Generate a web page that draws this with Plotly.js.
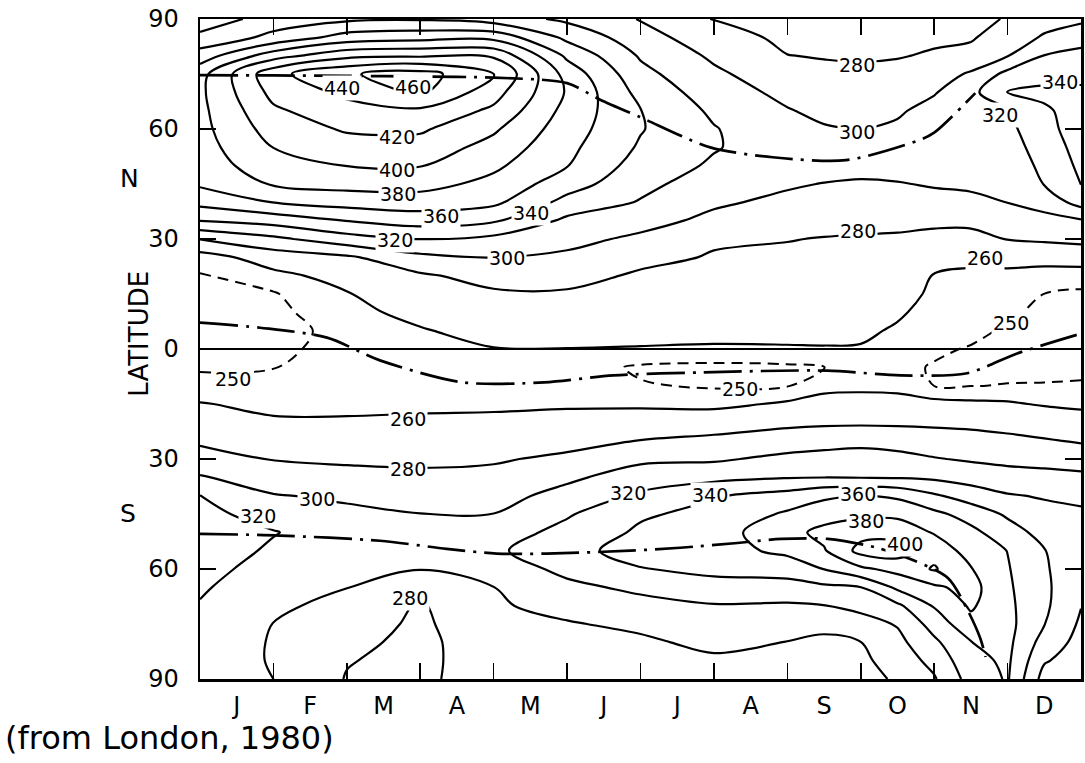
<!DOCTYPE html>
<html>
<head>
<meta charset="utf-8">
<script src="https://cdn.plot.ly/plotly-3.0.1.min.js"></script>
<style>html,body{margin:0;padding:0;background:#fff;}#chart{width:1085px;height:763px;}</style>
</head>
<body>
<div id="chart"></div>
<script>
// ---- data (total ozone, Dobson units) ----
const monthLabels = ['J','F','M','A','M','J','J','A','S','O','N','D'];
const monthCenters = [0.5,1.5,2.5,3.5,4.5,5.5,6.5,7.5,8.5,9.5,10.5,11.5];
const monthBounds = [1,2,3,4,5,6,7,8,9,10,11];
const latTickVals = [-90,-60,-30,0,30,60,90];
const latTickText = ['90','60','30','0','30','60','90'];

// time (months from 1 Jan) of each grid column
const timeGrid = [0,1,2,3,4,5,6,7,8,8.5,9,9.5,10,10.5,11,11.5,12];
// latitude of each grid row (north positive)
const latGrid = [90,85,80,75,70,65,60,55,50,45,40,35,30,25,20,15,10,5,0,-5,-10,-15,-20,-25,-30,-35,-40,-45,-50,-55,-60,-65,-70,-75,-80,-85,-90];

// ozone profiles, one per time column, from 90N to 90S
const ozoneT00 = [306,326,349,373,376,375,374,372,370,363,346,320.5,280.5,252,249.7,247.5,245.3,244.8,246.8,248.9,253.2,260.7,268.8,276.9,288,301.6,320.5,325.7,331,330.6,326.5,322.4,318.7,315.5,312.4,309,306];
const ozoneT01 = [330,345,391,434,426,416.7,408.5,400.3,391,381.9,360.4,327.9,295.5,269,255.4,249.2,247.4,246.3,248,249.7,253.1,256.9,261.7,270.4,279.1,290.5,301,312,321,317.1,312.4,307.6,302.9,299.7,298.5,298.8,300];
const ozoneT02 = [336,368.2,414.3,458,444.5,432.7,422.3,411.4,400.4,386.8,367.8,340.5,311.8,276.7,266.5,259,256.2,253.2,253.1,254.8,256.6,258.4,260.8,268.8,276.8,286.4,297,304,309.7,309.3,304.7,300.4,295.3,290.5,285.7,281,279];
const ozoneT03 = [338,372.6,417,468,464,436,422.9,411.6,400.9,387,370.4,348.8,320.6,295,277.3,270.7,264,258.9,256.1,254.5,256.5,258.4,261.5,268.8,276.2,284,292.2,300.3,307.7,308.8,300.8,285,278,276,274,274.5,276];
const ozoneT04 = [330,373.6,417,442,428,416,403,393,383.9,374.3,364.4,342.5,314.7,300.4,287,277.2,271.2,265.1,259.5,256.4,254.7,257.9,262.7,270.4,278,285,292.5,300.2,310.1,316.3,307.8,299.8,297.9,295.9,294,292,290];
const ozoneT05 = [316,335,356,372.3,378,373.6,369.3,365,360.7,349.2,333.2,315.6,306,296.2,286.3,277.8,271.8,265.7,259.7,255.2,253.3,258.1,265.2,273.9,283.7,295.9,307.1,317.8,326.1,334,325.5,315,305.4,298.7,296.2,293.2,290];
const ozoneT06 = [299,308.4,317.8,325.9,333.8,340.5,341.3,337.6,331.5,325.4,318.6,307.3,296,284.9,277.5,273.1,268.6,264.2,259.2,248.5,250.8,257.6,267.8,280.4,295.9,310.1,323.3,337.4,343.2,347.5,339.1,324.4,313.2,303.5,297.1,292.5,288];
const ozoneT07 = [279,287.8,296.5,303.8,310,316.3,321.2,321.4,317.2,310.1,303.1,294.9,282.3,278.6,275,271.2,267.5,263.7,258.6,247.3,248.9,256.4,269.5,285,297.4,314.2,338.3,345.5,351.4,352.1,344.5,333.3,318.6,311.4,304.2,297,290];
const ozoneT08 = [272,276.1,280.3,287.6,294.9,301.2,305.4,309.6,309.8,302.5,295.2,287.9,280.6,276.9,273.5,270.1,266.7,263.3,259,248.2,249.4,261.9,275.4,290,304.8,318.9,347.6,362.8,373,364.6,348.6,332.3,317.6,308.4,299.6,294.8,290];
const ozoneT085 = [272,276,279,283.9,289.8,295.6,301.6,307.7,309,299.3,292.4,285.5,279.3,276,272.7,269.5,266.2,263,259.3,249.8,255.7,265.7,276.8,292.3,307.1,319.7,356.4,371.1,385.9,378.2,360.4,336.1,319.6,303.3,297.4,294.9,291];
const ozoneT09 = [272,276,278.5,282.9,288.3,293.7,299.4,306.5,307.9,297.2,290.6,284,278.7,275.5,272.3,269,265.8,262.6,259,253.1,256.6,266.1,277,294.4,308,319.1,360.6,375.3,393.1,406.4,376,339.7,325.6,312.1,299.7,295.8,292];
const ozoneT095 = [272,275.5,279,284.8,291.1,297.5,303,308.3,307.5,298.9,291.3,283.8,278,274,269.9,265.8,261.8,258.3,255.3,252.2,255.9,265.6,276.9,291.8,306.2,318.5,356.3,375.7,391.7,410,386.3,364,336.2,321.5,314.3,308.6,303];
const ozoneT10 = [274,277.3,281.7,290.2,298.6,306.6,314.4,311.9,306.8,301.7,293.7,284,274.7,265.5,259.2,257.3,255.4,253.5,251.5,249.3,249.9,263.8,276.5,288.8,301.2,316.4,342.6,364.7,378.4,392.8,402,376.5,361.8,348.1,336,326,318];
const ozoneT105 = [276,278.1,285.7,302.6,313.5,316,312.6,309.2,305.8,302.4,296.7,284.9,273.5,262.2,258.4,256.4,254.4,252.5,249.3,247.5,249.7,262.6,275.4,287,297.8,311.7,330.5,352,365,371.7,381.1,386.9,382.7,374,359.6,354,348];
const ozoneT11 = [281,289.4,299.2,325.7,341.3,318.9,315.1,311.4,307.7,304,300.2,290.7,280.8,263.6,257.6,254.6,251.7,248.7,245.6,247.3,250.4,261.6,273.1,284.4,295,308,321.5,336.9,348.9,359.6,361.5,363,364.5,366,365,363.5,362];
const ozoneT115 = [292,302.2,320.5,332.2,344.7,337,332.9,328.9,324.8,320.7,307,294,283.1,264.4,255.5,249.9,247.6,245.2,245.2,247.7,250.5,258.7,269.8,281.5,293.7,305.9,318.3,326,333,340.5,341.9,343.8,343.8,340.6,332,322,312];
const ozoneT12 = [296,312,325.8,335.5,343,348.6,350.7,347.3,344,340.6,328,297.8,285.6,266.8,253.7,248.7,246.5,244.4,245.9,248.1,250.8,257.1,266.4,278.1,291.4,304.1,315.6,323.1,328,333,328.9,324.7,320.6,316.9,313.3,309.6,306];

const ozoneColumns = [ozoneT00,ozoneT01,ozoneT02,ozoneT03,ozoneT04,ozoneT05,ozoneT06,ozoneT07,ozoneT08,ozoneT085,ozoneT09,ozoneT095,ozoneT10,ozoneT105,ozoneT11,ozoneT115,ozoneT12];

// latitude of the ozone maximum / minimum (dash-dot lines)
const nhMaxT = [0,1,2,3,4,5,5.45,6,6.95,7.8,8.8,9.8,10.0,10.56];
const nhMaxLat = [74.7,74.6,74.5,74.3,74,72.5,68,63.2,55,52.3,51.5,57,59,69.8];
const eqMinT = [0,0.82,1.73,2.45,3.58,4.69,5.63,6.81,8.54,9.54,10.45,11.13,12];
const eqMinLat = [7.2,5.8,3.1,-3.1,-9.1,-9.1,-7.2,-6.4,-5.9,-7.2,-6.6,-1.2,4.2];
const shMaxT = [0,1.09,2.45,3.36,4.04,4.72,5.86,6.54,7.32,7.92,8.55,9.22,9.7,10.19,10.45,10.63,10.7];
const shMaxLat = [-50.4,-50.9,-52.3,-54.5,-55.8,-55.8,-55,-54.2,-52.9,-51.8,-51.8,-54.2,-57.5,-62.5,-71,-79,-84];

// contour labels: value, time, latitude
const labelText = ['440','460','420','400','380','360','340','320','300','280','300','280','260','340','320','250','250','250','260','280','300','320','280','320','340','360','380','400'];
const labelT =    [1.93,2.9,2.68,2.68,2.7,3.28,4.51,2.66,4.18,8.95,8.95,8.96,10.69,11.72,10.9,11.04,0.45,7.36,2.83,2.83,1.59,0.79,2.86,5.83,6.95,8.96,9.07,9.6];
const labelLat =  [71.2,71.4,57.8,48.7,42.4,36.4,37,29.6,24.7,77.4,59.1,32.1,24.7,72.8,63.8,7.2,-8.1,-10.8,-19,-32.6,-40.8,-45.5,-67.9,-39.2,-39.7,-39.5,-46.8,-53.1];

// ---- build ----
const z = latGrid.map((_, i) => ozoneColumns.map(col => col[i]));
const FONT = 'DejaVu Sans, Liberation Sans, Arial, sans-serif';

const traces = [
  {type:'contour', x: timeGrid, y: latGrid, z: z, showscale:false, hoverinfo:'skip',
   contours:{coloring:'none', start:260, end:460, size:20, showlabels:false},
   line:{color:'#000', width:2.2, smoothing:1}},
  {type:'contour', x: timeGrid, y: latGrid, z: z, showscale:false, hoverinfo:'skip',
   contours:{coloring:'none', start:250, end:250.5, size:10, showlabels:false},
   line:{color:'#000', width:2, dash:'11px,7px', smoothing:1}},
  {type:'scatter', mode:'lines', x: nhMaxT, y: nhMaxLat, xaxis:'x2', yaxis:'y',
   line:{color:'#000', width:2.7, dash:'38px,8px,3px,8px', shape:'spline', smoothing:0.8}, hoverinfo:'skip'},
  {type:'scatter', mode:'lines', x: eqMinT, y: eqMinLat, xaxis:'x2', yaxis:'y',
   line:{color:'#000', width:2.7, dash:'38px,8px,3px,8px', shape:'spline', smoothing:0.8}, hoverinfo:'skip'},
  {type:'scatter', mode:'lines', x: shMaxT, y: shMaxLat, xaxis:'x2', yaxis:'y',
   line:{color:'#000', width:2.7, dash:'38px,8px,3px,8px', shape:'spline', smoothing:0.8}, hoverinfo:'skip'}
];

const annotations = labelText.map((t, i) => ({
  text: t, x: labelT[i], y: labelLat[i], xref:'x', yref:'y', showarrow:false,
  font:{family:FONT, size:19, color:'#000'}, bgcolor:'#fff', borderpad:1
}));
annotations.push(
  {text:'LATITUDE', xref:'paper', yref:'y', x:-0.0885, y:4.2, textangle:-90, showarrow:false,
   font:{family:FONT, size:26, color:'#000'}},
  {text:'N', xref:'paper', yref:'y', x:-0.093, y:46.5, showarrow:false, font:{family:FONT, size:25, color:'#000'}},
  {text:'S', xref:'paper', yref:'y', x:-0.093, y:-44.9, showarrow:false, font:{family:FONT, size:25, color:'#000'}},
  {text:'(from London, 1980)', xref:'paper', yref:'paper', x:-0.2236, y:-0.0895, xanchor:'left', yanchor:'middle',
   showarrow:false, font:{family:FONT, size:32, color:'#000'}}
);

const layout = {
  width:1085, height:763,
  margin:{l:200, r:4, t:19, b:84, pad:0},
  paper_bgcolor:'#fff', plot_bgcolor:'#fff',
  showlegend:false,
  font:{family:FONT, color:'#000'},
  xaxis:{range:[0,12], tickvals: monthCenters, ticktext: monthLabels, ticks:'',
         showline:true, mirror:true, linecolor:'#000', linewidth:2.5,
         showgrid:false, zeroline:false, ticklabelstandoff:4,
         tickfont:{family:FONT, size:24, color:'#000'}, fixedrange:true},
  xaxis2:{range:[0,12], overlaying:'x', anchor:'y', side:'bottom', tickvals: monthBounds,
          ticks:'inside', ticklen:16, tickwidth:1.6, tickcolor:'#000', mirror:'ticks',
          showline:true, linecolor:'#000', linewidth:2.5, showticklabels:false,
          showgrid:false, zeroline:false, fixedrange:true},
  yaxis:{range:[-90,90], tickvals: latTickVals, ticktext: latTickText, ticks:'inside',
         ticklen:16, tickwidth:1.6, tickcolor:'#000', mirror:'ticks',
         showline:true, linecolor:'#000', linewidth:2.5, showgrid:false,
         zeroline:true, zerolinecolor:'#000', zerolinewidth:1.5, ticklabelstandoff:14,
         tickfont:{family:FONT, size:24, color:'#000'}, fixedrange:true},
  annotations: annotations
};

Plotly.newPlot('chart', traces, layout, {staticPlot:true, displayModeBar:false});
</script>
</body>
</html>
